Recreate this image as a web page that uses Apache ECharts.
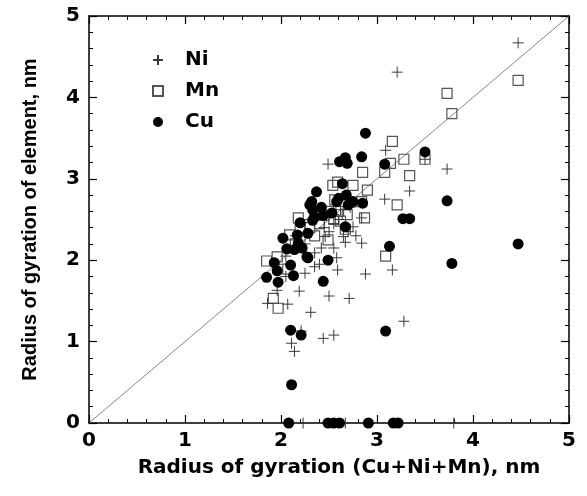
<!DOCTYPE html>
<html><head><meta charset="utf-8">
<script src="https://cdn.jsdelivr.net/npm/echarts@6/dist/echarts.min.js"></script>
<style>html,body{margin:0;padding:0;background:#fff}#c{width:587px;height:496px}</style>
</head><body><div id="c"></div>
<script>
const xTicks = [0,1,2,3,4,5];
const yTicks = [0,1,2,3,4,5];
const niData = [[4.47,4.67],[3.21,4.31],[3.09,3.35],[3.50,3.24],[3.73,3.12],[3.34,2.85],[3.08,2.75],[2.49,3.18],[2.84,2.52],[2.75,2.41],[2.65,2.29],[2.67,2.22],[2.84,2.21],[2.46,2.29],[2.42,2.15],[2.35,2.09],[2.58,2.03],[3.16,1.88],[2.88,1.83],[2.59,1.88],[2.35,1.92],[2.25,1.84],[1.86,1.47],[2.07,1.46],[1.96,1.63],[2.19,1.62],[2.31,1.36],[2.50,1.56],[2.71,1.53],[2.21,1.13],[2.11,0.98],[2.14,0.88],[2.44,1.04],[2.55,1.08],[3.28,1.25],[2.23,0],[2.67,0],[3.80,0],[2.55,2.45],[2.60,2.50],[2.70,2.35],[2.45,2.40],[2.62,2.62],[2.35,2.60],[2.72,2.65],[2.25,2.20],[2.50,2.35],[2.78,2.30],[2.55,2.15],[2.30,2.50],[2.15,2.30],[2.05,2.05],[2.40,1.95],[2.05,1.80],[1.95,1.95]];
const mnData = [[4.47,4.21],[3.73,4.05],[3.78,3.80],[3.16,3.46],[3.14,3.19],[3.08,3.08],[3.28,3.24],[3.50,3.24],[3.34,3.04],[3.21,2.68],[3.09,2.05],[2.85,3.08],[2.75,2.92],[2.54,2.92],[2.59,2.96],[2.90,2.86],[2.84,2.72],[2.56,2.74],[2.87,2.52],[2.69,2.56],[2.49,2.25],[2.67,2.38],[2.18,2.52],[2.09,2.31],[1.85,1.99],[1.96,2.04],[2.07,1.89],[1.92,1.53],[1.97,1.41],[2.45,2.55],[2.55,2.50],[2.40,2.45],[2.60,2.60],[2.30,2.40],[2.20,2.40],[2.62,2.48],[2.52,2.60],[2.15,2.20],[2.35,2.30]];
const cuData = [[2.88,3.56],[3.50,3.33],[2.67,3.26],[2.61,3.21],[2.69,3.19],[2.84,3.27],[3.08,3.18],[2.64,2.94],[2.37,2.84],[2.32,2.72],[2.30,2.68],[2.60,2.76],[2.68,2.80],[2.58,2.72],[2.70,2.68],[2.75,2.72],[2.85,2.70],[3.73,2.73],[3.27,2.51],[3.34,2.51],[2.33,2.62],[2.42,2.65],[2.35,2.53],[2.44,2.55],[2.53,2.58],[2.67,2.41],[2.28,2.33],[3.13,2.17],[4.47,2.20],[2.27,2.04],[2.49,2.00],[2.20,2.46],[2.33,2.49],[2.02,2.27],[2.17,2.31],[2.18,2.21],[2.06,2.14],[2.14,2.13],[2.22,2.15],[2.28,2.03],[1.93,1.97],[1.96,1.87],[1.85,1.79],[1.97,1.73],[2.13,1.81],[2.44,1.74],[2.10,1.94],[3.78,1.96],[3.09,1.13],[2.10,1.14],[2.21,1.08],[2.11,0.47],[2.08,0],[2.49,0],[2.55,0],[2.61,0],[2.91,0],[3.17,0],[3.22,0]];
const diagData = [[0,0],[5,5]];

const FONT_H = 'DejaVu Sans, sans-serif';
const FONT_V = 'Liberation Sans, Arial, sans-serif';
const axisCommon = {
  min: 0, max: 5, interval: 1,
  axisLine: {onZero: false, lineStyle: {color: '#000', width: 1.5}},
  axisTick: {inside: true, length: 8, lineStyle: {color: '#000', width: 1.2}},
  minorTick: {show: true, splitNumber: 5, length: 4, lineStyle: {color: '#000', width: 1}},
  splitLine: {show: false}
};
const chart = echarts.init(document.getElementById('c'));
chart.setOption({
  animation: false,
  backgroundColor: '#fff',
  grid: {left: 89, right: 18, top: 16, bottom: 73},
  legend: {
    orient: 'vertical', left: 147, top: 45, itemWidth: 10, itemHeight: 10, itemGap: 11,
    data: ['Ni','Mn','Cu'],
    textStyle: {fontFamily: FONT_H, fontWeight: 'bold', fontSize: 20, color: '#000', padding: [0,0,0,17]}
  },
  xAxis: [
    Object.assign({}, axisCommon, {type: 'value', position: 'bottom',
      name: 'Radius of gyration (Cu+Ni+Mn), nm', nameLocation: 'middle', nameGap: 35,
      nameTextStyle: {fontFamily: FONT_H, fontWeight: 'bold', fontSize: 20, color: '#000', padding: [0,0,0,20]},
      axisLabel: {fontFamily: FONT_H, fontWeight: 'bold', fontSize: 20, color: '#000', margin: 8,
        formatter: v => xTicks.includes(v) ? String(v) : ''}}),
    Object.assign({}, axisCommon, {type: 'value', position: 'top', axisLabel: {show: false}})
  ],
  yAxis: [
    Object.assign({}, axisCommon, {type: 'value', position: 'left',
      name: 'Radius of gyration of element, nm', nameLocation: 'middle', nameGap: 49,
      nameTextStyle: {fontFamily: FONT_V, fontWeight: 'bold', fontSize: 20, color: '#000'},
      axisLabel: {fontFamily: FONT_H, fontWeight: 'bold', fontSize: 20, color: '#000', margin: 9,
        formatter: v => yTicks.includes(v) ? String(v) : ''}}),
    Object.assign({}, axisCommon, {type: 'value', position: 'right', axisLabel: {show: false}})
  ],
  series: [
    {type: 'line', data: diagData, symbol: 'none', silent: true, z: 1,
      lineStyle: {color: '#666', width: 0.8}},
    {name: 'Ni', type: 'scatter', data: niData, symbol: 'path://M0,5L10,5M5,0L5,10', symbolSize: 11, z: 3,
      itemStyle: {color: 'rgba(0,0,0,0)', borderColor: '#3a3a3a', borderWidth: 1, opacity: 1}},
    {name: 'Mn', type: 'scatter', data: mnData, symbol: 'rect', symbolSize: 10, z: 2,
      itemStyle: {color: 'rgba(0,0,0,0)', borderColor: '#555', borderWidth: 1.2, opacity: 1}},
    {name: 'Cu', type: 'scatter', data: cuData, symbol: 'circle', symbolSize: 11, z: 4,
      itemStyle: {color: '#000', opacity: 1}}
  ]
});
</script></body></html>
